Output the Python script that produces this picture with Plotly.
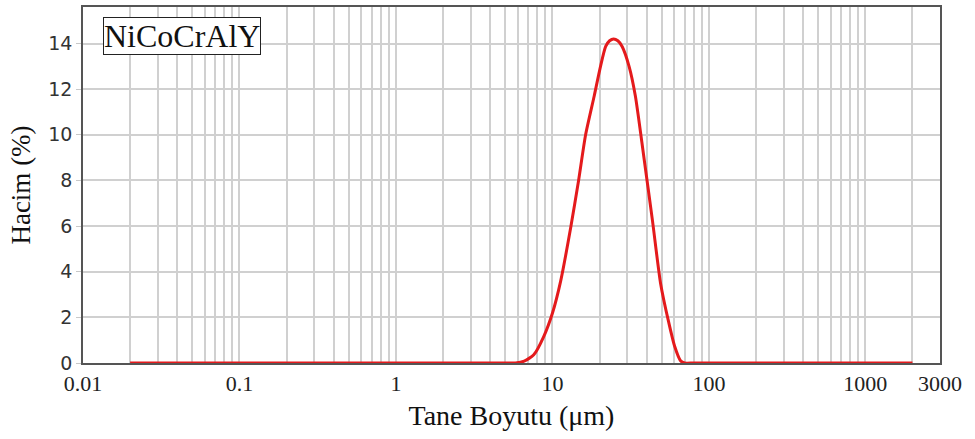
import plotly.graph_objects as go

# Particle size distribution (NiCoCrAlY)
size_um = [0.02, 1.0, 5.0, 5.8, 6.6, 7.6, 8.8, 10.0, 11.3, 13.1, 14.7, 16.3, 18.5, 20.3, 21.9,
           23.2, 24.6, 26.2, 27.9, 30.9, 33.9, 38.2, 43.6, 49.1, 55.3, 60.5, 65.9, 70.0, 80.0,
           500, 2000]
volume_pct = [0, 0, 0, 0, 0.08, 0.36, 1.16, 2.18, 3.6, 5.95, 8.0, 10.0, 11.7, 13.0, 13.87,
              14.12, 14.2, 14.12, 13.87, 13.0, 11.7, 9.15, 6.24, 3.5, 1.8, 0.72, 0.1, 0, 0,
              0, 0]

x_labels = {0.01: "0.01", 0.1: "0.1", 1: "1", 10: "10", 100: "100", 1000: "1000", 3000: "3000"}
y_ticks = [0, 2, 4, 6, 8, 10, 12, 14]
series_name = "NiCoCrAlY"

# gridline positions: 1..9 x each decade, up to 3000
grid_vals = []
for e in range(-2, 4):
    for m in range(1, 10):
        v = round(m * 10 ** e, 6)
        if v <= 3000:
            grid_vals.append(v)
grid_text = [x_labels.get(v, "") for v in grid_vals]

fig = go.Figure()
fig.add_trace(go.Scatter(
    x=size_um, y=volume_pct, mode="lines",
    line=dict(color="#e41a1c", width=3, shape="spline", smoothing=0.6),
    showlegend=False, cliponaxis=True,
))

fig.update_layout(
    width=975, height=439,
    margin=dict(l=83, r=35, t=5, b=76),
    paper_bgcolor="white", plot_bgcolor="white",
    xaxis=dict(
        type="log", range=[-2, 3.4771],
        tickvals=grid_vals, ticktext=grid_text,
        showgrid=True, gridcolor="#d0d0d0", gridwidth=1.5,
        showline=True, linecolor="#555555", linewidth=1.5, mirror=True,
        ticks="", zeroline=False,
        tickfont=dict(family="Liberation Serif", size=22, color="#222222"),
        title=dict(text="Tane Boyutu (μm)", standoff=10,
                   font=dict(family="Liberation Serif", size=28, color="#111111")),
    ),
    yaxis=dict(
        range=[0, 15.6], tickvals=y_ticks,
        showgrid=True, gridcolor="#d0d0d0", gridwidth=1.5,
        showline=True, linecolor="#555555", linewidth=1.5, mirror=True,
        ticks="outside", ticklen=5, tickcolor="#c8c8c8", zeroline=False,
        tickfont=dict(family="DejaVu Sans", size=19, color="#333333"),
        title=dict(text="Hacim (%)", standoff=10,
                   font=dict(family="Liberation Serif", size=27, color="#111111")),
    ),
    annotations=[dict(
        text=series_name, xref="paper", yref="paper", x=0.023, y=0.972,
        xanchor="left", yanchor="top", showarrow=False,
        font=dict(family="Liberation Serif", size=32, color="#111111"),
        bgcolor="white", bordercolor="#222222", borderwidth=1, borderpad=0,
    )],
)

fig.write_html("out.html", config={"displayModeBar": False},
               post_script="document.body.style.margin='0';")
